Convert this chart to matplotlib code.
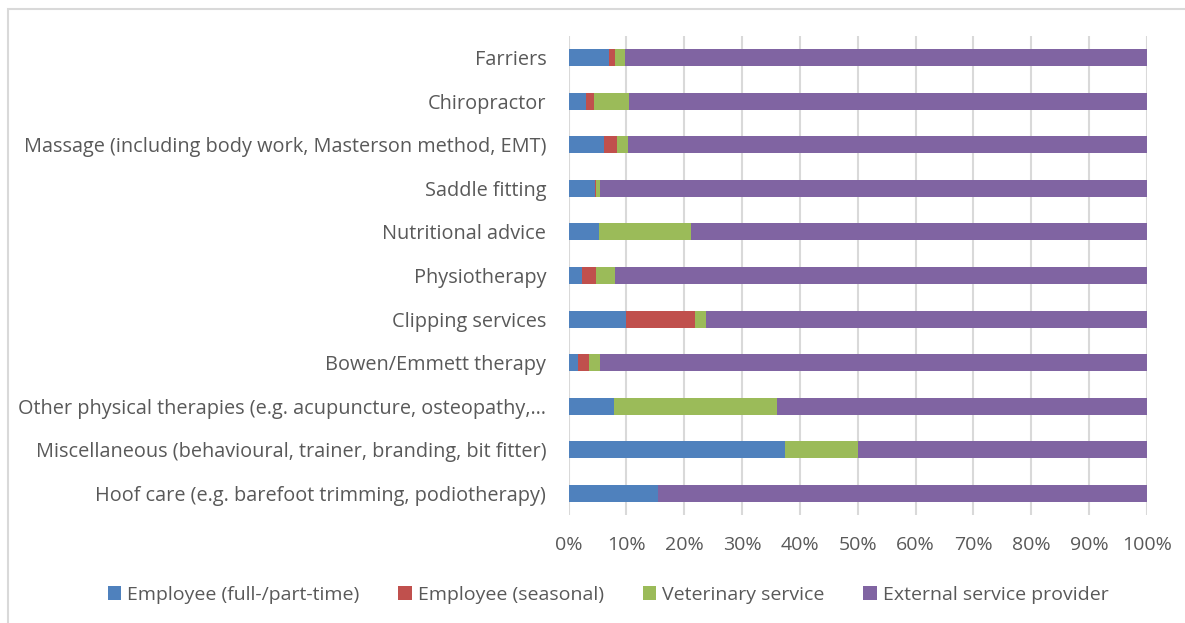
import matplotlib
matplotlib.use("Agg")
import matplotlib.pyplot as plt
from matplotlib.patches import Rectangle
import numpy as np

categories = [
    "Hoof care (e.g. barefoot trimming, podiotherapy)",
    "Miscellaneous (behavioural, trainer, branding, bit fitter)",
    "Other physical therapies (e.g. acupuncture, osteopathy,\u2026",
    "Bowen/Emmett therapy",
    "Clipping services",
    "Physiotherapy",
    "Nutritional advice",
    "Saddle fitting",
    "Massage (including body work, Masterson method, EMT)",
    "Chiropractor",
    "Farriers",
]
series_names = ["Employee (full-/part-time)", "Employee (seasonal)",
                "Veterinary service", "External service provider"]
emp_full = [15.4, 37.5, 7.9, 1.7, 10.0, 2.4, 5.3, 4.5, 6.2, 3.1, 7.0]
emp_seasonal = [0.0, 0.0, 0.0, 1.9, 11.8, 2.4, 0.0, 0.3, 2.2, 1.3, 1.1]
veterinary = [0.0, 12.5, 28.1, 1.8, 1.9, 3.3, 15.8, 0.6, 1.8, 6.1, 1.7]
external = [84.6, 50.0, 64.0, 94.6, 76.3, 91.9, 78.9, 94.6, 89.8, 89.5, 90.2]
colors = ["#4F81BD", "#C0504D", "#9BBB59", "#8064A2"]
xticks = [0, 10, 20, 30, 40, 50, 60, 70, 80, 90, 100]

plt.rcParams['font.family'] = ['Open Sans', 'DejaVu Sans']
txt = "#595959"
fs = 14

fig = plt.figure(figsize=(11.85, 6.23), dpi=100)
W, H = 1185, 623
ax = fig.add_axes([568.5 / W, 1 - 515 / H, (1147 - 568.5) / W, (515 - 36) / H])

y = np.arange(len(categories))
data = [emp_full, emp_seasonal, veterinary, external]
left = np.zeros(len(categories))
for name, vals, c in zip(series_names, data, colors):
    vals = np.array(vals, dtype=float)
    ax.barh(y, vals, left=left, height=0.39, color=c, label=name, zorder=3,
            edgecolor='none')
    left += vals

ax.set_xlim(0, 100)
ax.set_ylim(-0.5, len(categories) - 0.5)
ax.set_xticks(xticks)
ax.set_xticklabels([f"{t}%" for t in xticks])
ax.set_yticks(y)
ax.set_yticklabels(categories)
ax.grid(axis='x', color='#D9D9D9', linewidth=1.5, zorder=0)
for s in ax.spines.values():
    s.set_visible(False)
ax.tick_params(axis='both', length=0, colors=txt, labelsize=fs)
ax.tick_params(axis='x', pad=15)
ax.tick_params(axis='y', pad=16, labelsize=14.3)

handles, labels = ax.get_legend_handles_labels()
fig.legend(handles, labels, loc='center', ncol=4,
           bbox_to_anchor=(608 / W, 1 - 595 / H), frameon=False,
           fontsize=fs, labelcolor=txt, handlelength=0.7, handleheight=0.7,
           handletextpad=0.3, columnspacing=2.0)

fig.add_artist(Rectangle((8 / W, -0.1), 1.2, 1 - 9 / H + 0.1,
                         transform=fig.transFigure, fill=False,
                         edgecolor='#D9D9D9', linewidth=1.5))

fig.savefig("out.png", dpi=100)
